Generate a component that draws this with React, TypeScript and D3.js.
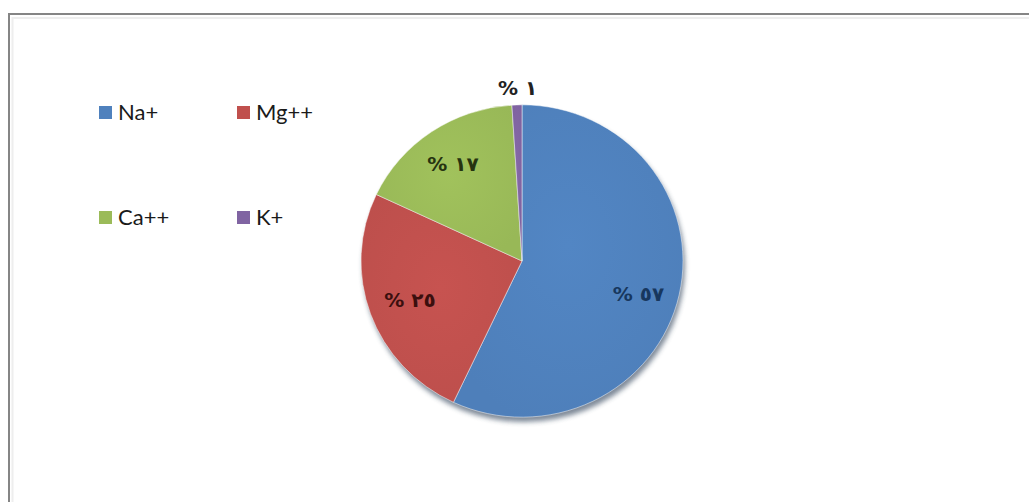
import React from "react";
import * as d3 from "d3";

const categories = ["Na+", "Mg++", "Ca++", "K+"];
const values = [57, 25, 17, 1];
const colors = ["#4F81BD", "#C0504D", "#9BBB59", "#8064A2"];
const labelColors = ["#17375E", "#3B0F0E", "#263310", "#222222"];

const W = 1029;
const H = 502;

const toArabicDigits = (n: number) =>
  String(n).replace(/[0-9]/g, (d) => "٠١٢٣٤٥٦٧٨٩"[+d]);

export default function App() {
  const cx = 522;
  const cy = 261;
  const r = 161;
  const squash = 0.97;

  const pie = d3.pie<number>().sort(null).value((d) => d);
  const arcs = pie(values);
  const arc = d3.arc<d3.PieArcDatum<number>>().innerRadius(0).outerRadius(r);

  // label placement along each slice's mid-angle, with small nudges
  const labelRadius = [0.78, 0.72, 0.62, 1.08];
  const labelNudge: [number, number][] = [
    [-6, 8],
    [-3, 2],
    [-13, -15],
    [1, -3],
  ];

  const legendX = [99, 237];
  const legendY = [106, 211];

  return (
    <div style={{ position: "fixed", left: 0, top: 0, width: W, height: H, background: "#fff" }}>
      <svg width={W} height={H} style={{ display: "block" }}>
        <defs>
          <filter id="pieShadow" x="-20%" y="-20%" width="140%" height="140%">
            <feGaussianBlur stdDeviation="2.5" />
          </filter>
          {colors.map((c, i) => (
            <radialGradient key={i} id={`g${i}`} cx="50%" cy="45%" r="60%">
              <stop offset="0%" stopColor={d3.color(c)!.brighter(0.1).formatHex()} />
              <stop offset="100%" stopColor={d3.color(c)!.darker(0.05).formatHex()} />
            </radialGradient>
          ))}
        </defs>
        {/* frame */}
        <rect x={9} y={14} width={W + 20} height={H + 20} fill="none" stroke="#858585" strokeWidth={2} />
        <rect x={12.5} y={18} width={W + 20} height={H + 20} fill="none" stroke="#eeeeee" strokeWidth={2} />

        {/* legend */}
        {categories.map((c, i) => {
          const x = legendX[i % 2];
          const y = legendY[Math.floor(i / 2)];
          return (
            <g key={c}>
              <rect x={x} y={y} width={13} height={13} fill={colors[i]} />
              <text
                x={x + 19}
                y={y + 14}
                fontFamily="Lato, 'Open Sans', sans-serif"
                fontSize={22}
                fill="#1a1a1a"
              >
                {c}
              </text>
            </g>
          );
        })}

        {/* pie */}
        <g transform={`translate(${cx},${cy}) scale(1,${squash})`}>
          <ellipse cx={2} cy={5} rx={r} ry={r} fill="#2c3e55" opacity={0.6} filter="url(#pieShadow)" />
          {arcs.map((a, i) => (
            <path
              key={i}
              d={arc(a) || ""}
              fill={`url(#g${i})`}
              stroke="#ffffff"
              strokeOpacity={0.6}
              strokeWidth={0.8}
            />
          ))}
        </g>

        {/* value labels */}
        {arcs.map((a, i) => {
          const mid = (a.startAngle + a.endAngle) / 2;
          const lr = r * labelRadius[i];
          const x = cx + Math.sin(mid) * lr + labelNudge[i][0];
          const y = cy - Math.cos(mid) * lr * squash + labelNudge[i][1];
          return (
            <text
              key={i}
              x={x}
              y={y}
              textAnchor="middle"
              dominantBaseline="middle"
              direction="ltr"
              fontFamily="'DejaVu Sans', sans-serif"
              fontWeight="bold"
              fontSize={20}
              fill={labelColors[i]}
            >
              {`% ${toArabicDigits(values[i])}`}
            </text>
          );
        })}
      </svg>
    </div>
  );
}
